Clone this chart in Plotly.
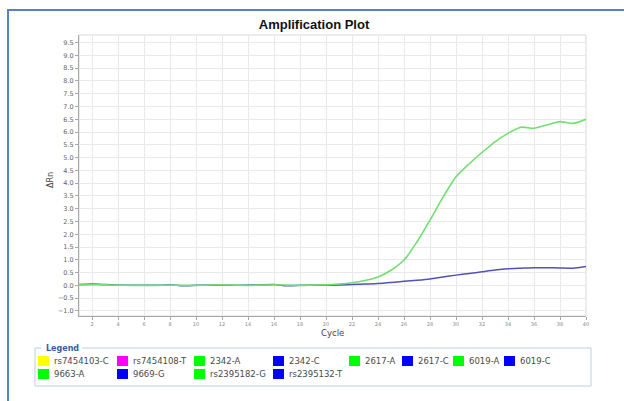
import plotly.graph_objects as go

# ---- data ----
cycles = list(range(1, 41))
green_amp = [0.02, 0.03, 0.02, 0.01, 0.0, 0.0, 0.0, 0.01, 0.0, 0.0,
             0.01, 0.02, 0.01, 0.0, 0.01, 0.02, 0.01, 0.0, 0.01, 0.02,
             0.05, 0.10, 0.19, 0.33, 0.59, 0.99, 1.70, 2.55, 3.45, 4.25,
             4.75, 5.2, 5.62, 5.95, 6.19, 6.15, 6.28, 6.41, 6.34, 6.5]
blue_amp = [0.03, 0.05, 0.03, 0.01, 0.0, 0.0, 0.0, 0.02, -0.02, 0.0,
            0.01, 0.0, 0.0, 0.01, 0.02, 0.03, -0.02, 0.0, 0.01, 0.0,
            0.01, 0.03, 0.05, 0.07, 0.11, 0.16, 0.20, 0.25, 0.33, 0.40,
            0.46, 0.53, 0.60, 0.65, 0.67, 0.69, 0.69, 0.68, 0.67, 0.74]
legend_names = ["rs7454103-C", "rs7454108-T", "2342-A", "2342-C", "2617-A", "2617-C",
                "6019-A", "6019-C", "9663-A", "9669-G", "rs2395182-G", "rs2395132-T"]
legend_colors = ["#ffff00", "#ff00ff", "#00ff00", "#0000ff", "#00ff00", "#0000ff",
                 "#00ff00", "#0000ff", "#00ff00", "#0000ff", "#00ff00", "#0000ff"]
x_ticks = list(range(2, 41, 2))

# ---- layout geometry (pixels) ----
W, H = 624, 401
L, R, T, B = 79, 586, 35, 316
PW, PH = R - L, B - T


def px(X):
    return (X - L) / PW


def py(Y):
    return (B - Y) / PH


fig = go.Figure()
fig.add_trace(go.Scatter(x=cycles, y=blue_amp, mode="lines", line_shape="spline",
                         line=dict(color="#5252b8", width=1.5, smoothing=0.6), showlegend=False))
fig.add_trace(go.Scatter(x=cycles, y=green_amp, mode="lines", line_shape="spline",
                         line=dict(color="#6ee06e", width=1.6, smoothing=0.6), showlegend=False))

shapes = []
# outer panel border
shapes.append(dict(type="rect", xref="paper", yref="paper",
                   x0=px(8), x1=px(640), y0=py(420), y1=py(10),
                   line=dict(color="#4f84c9", width=2), layer="below"))
# legend box
shapes.append(dict(type="rect", xref="paper", yref="paper",
                   x0=px(35), x1=px(591), y0=py(386), y1=py(348),
                   line=dict(color="#b9cfe2", width=1), fillcolor="rgba(0,0,0,0)"))
# white patch behind "Legend"
shapes.append(dict(type="rect", xref="paper", yref="paper",
                   x0=px(41), x1=px(82), y0=py(351), y1=py(344),
                   line=dict(width=0), fillcolor="white"))

annotations = [
    dict(text="<b>Legend</b>", xref="paper", yref="paper", x=px(44), y=py(348),
         xanchor="left", yanchor="middle", showarrow=False,
         font=dict(family="DejaVu Sans", size=8, color="#3a5d9c"))
]

col_x = [38, 117, 194, 273, 349, 402, 453, 504, 38, 117, 194, 273]
row_y = [361] * 8 + [374] * 4
for name, color, cx, cy in zip(legend_names, legend_colors, col_x, row_y):
    shapes.append(dict(type="rect", xref="paper", yref="paper",
                       x0=px(cx), x1=px(cx + 11), y0=py(cy + 5), y1=py(cy - 5),
                       line=dict(width=0), fillcolor=color))
    annotations.append(dict(text=name, xref="paper", yref="paper",
                            x=px(cx + 14), y=py(cy), xanchor="left", yanchor="middle",
                            showarrow=False,
                            font=dict(family="DejaVu Sans", size=8.5, color="#4a4a4a")))

annotations.append(dict(text="Cycle", xref="paper", yref="paper", x=px(332), y=py(333),
                        xanchor="center", yanchor="middle", showarrow=False,
                        font=dict(family="DejaVu Sans", size=8.5, color="#444")))
annotations.append(dict(text="ΔRn", xref="paper", yref="paper", x=px(50), y=py(180),
                        xanchor="center", yanchor="middle", showarrow=False, textangle=-90,
                        font=dict(family="DejaVu Sans", size=8, color="#444")))

fig.update_layout(
    width=W, height=H,
    margin=dict(l=L, r=W - R, t=T, b=H - B, pad=0),
    paper_bgcolor="white", plot_bgcolor="white",
    title=dict(text="<b>Amplification Plot</b>", xref="container", yref="container",
               x=314 / W, y=1 - 24 / H, xanchor="center", yanchor="middle",
               font=dict(family="Liberation Sans", size=13, color="#111")),
    shapes=shapes, annotations=annotations,
    showlegend=False,
)
fig.update_xaxes(range=[1, 40], tickvals=x_ticks, ticktext=[str(v) for v in x_ticks],
                 showgrid=True, gridcolor="#e9e9e9", gridwidth=1,
                 zeroline=False, showline=True, linecolor="#a8a8a8", linewidth=1,
                 mirror=False, ticks="outside", ticklen=3, tickcolor="#a8a8a8",
                 tickfont=dict(family="DejaVu Sans", size=5, color="#888"))
fig.update_yaxes(range=[-1.2, 9.8], tick0=-1.0, dtick=0.5, tickformat=".1f",
                 showgrid=True, gridcolor="#e9e9e9", gridwidth=1,
                 zeroline=False, showline=True, linecolor="#a8a8a8", linewidth=1,
                 ticks="outside", ticklen=3, tickcolor="#a8a8a8",
                 tickfont=dict(family="DejaVu Sans", size=6.5, color="#666"))
# light frame on top/right of plot area
fig.add_shape(type="rect", xref="paper", yref="paper", x0=0, x1=1, y0=0, y1=1,
              line=dict(color="#d8d8d8", width=1), layer="below")

fig.write_html("out.html")
